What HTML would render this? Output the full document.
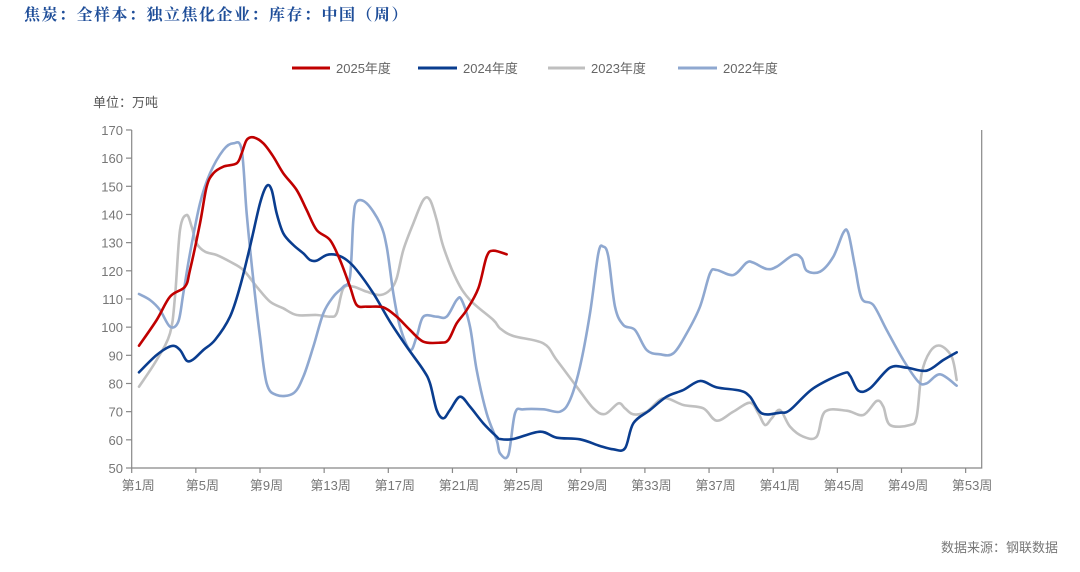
<!DOCTYPE html>
<html><head><meta charset="utf-8"><style>
body{margin:0;background:#fff;width:1080px;height:567px;overflow:hidden;font-family:"Liberation Sans","Noto Sans CJK SC",sans-serif}
</style></head><body>
<svg id="s" width="1080" height="567" xmlns="http://www.w3.org/2000/svg">
<text x="24" y="20" font-size="16" font-weight="bold" fill="#1f4e99" font-family="Liberation Serif,Noto Serif CJK SC,serif" letter-spacing="1.5">焦炭：全样本：独立焦化企业：库存：中国（周）</text>
<g font-size="13" fill="#666">
<line x1="292" y1="68" x2="330" y2="68" stroke="#c00000" stroke-width="3"/><text x="336" y="73">2025年度</text>
<line x1="418" y1="68" x2="457" y2="68" stroke="#0a3d8f" stroke-width="3"/><text x="463" y="73">2024年度</text>
<line x1="548" y1="68" x2="585" y2="68" stroke="#bfbfbf" stroke-width="3"/><text x="591" y="73">2023年度</text>
<line x1="678" y1="68" x2="717" y2="68" stroke="#8fa8d0" stroke-width="3"/><text x="723" y="73">2022年度</text>
</g>
<text x="93" y="107" font-size="13" fill="#555">单位：万吨</text>
<text x="1058" y="552" font-size="13" fill="#777" text-anchor="end">数据来源：钢联数据</text>
<g id="ax" stroke="#888" stroke-width="1.2" fill="none"></g>
<g id="lbl" font-size="13" fill="#777"></g>
<g id="ser" fill="none" stroke-width="2.6" stroke-linejoin="round" stroke-linecap="round"></g>
</svg>
<script>
var NS="http://www.w3.org/2000/svg";
function el(p,t,a,txt){var e=document.createElementNS(NS,t);for(var k in a)e.setAttribute(k,a[k]);if(txt)e.textContent=txt;document.getElementById(p).appendChild(e);}
el("ax","path",{d:"M131.7,130V468H981.7V130"});
for(var v=50;v<=170;v+=10){var y=468-(v-50)*2.817;el("ax","line",{x1:126,y1:y,x2:131.7,y2:y});el("lbl","text",{x:123,y:y+5,"text-anchor":"end"},""+v);}
for(var i=0;i<14;i++){var x=131.7+i*64.15;el("ax","line",{x1:x,y1:468,x2:x,y2:473});el("lbl","text",{x:x+6.5,y:490,"text-anchor":"middle"},"第"+(1+i*4)+"周");}
function L(a){var r=[];for(var i=0;i<a.length;i+=2)if(a[i]<1230)r.push([90+a[i]/3,120+a[i+1]/3]);return r;}
function R(a){var r=[];for(var i=0;i<a.length;i+=2)r.push([500+a[i]/3,200+a[i+1]/3]);return r;}
function path(p){var d="M"+p[0][0].toFixed(1)+","+p[0][1].toFixed(1);for(var i=0;i<p.length-1;i++){var p0=p[i-1]||p[i],p1=p[i],p2=p[i+1],p3=p[i+2]||p2;var c1=[p1[0]+(p2[0]-p0[0])/6,p1[1]+(p2[1]-p0[1])/6],c2=[p2[0]-(p3[0]-p1[0])/6,p2[1]-(p3[1]-p1[1])/6];d+="C"+c1.join(",")+" "+c2.join(",")+" "+p2.join(",");}return d;}
var gray=L([147,800,200,720,240,640,255,530,270,330,290,285,305,320,320,370,345,395,380,405,420,425,460,450,500,500,540,545,580,565,620,585,680,585,720,590,740,580,760,505,790,500,830,515,870,525,900,510,920,475,940,390,970,310,1000,240,1020,240,1040,300,1060,380,1100,480,1140,540,1210,600]).concat(R([0,385,40,408,130,430,170,480,230,560,280,625,315,642,355,610,375,625,400,643,440,635,490,595,550,615,610,625,650,662,700,635,750,608,775,640,795,675,815,655,840,630,870,680,910,710,950,710,975,635,1040,632,1090,645,1130,603,1150,620,1170,675,1230,675,1250,650,1265,520,1290,455,1320,437,1355,470,1370,540]));
var lb=L([147,522,180,540,210,570,240,620,265,605,280,520,300,400,330,250,360,160,400,90,430,70,455,90,470,280,490,480,510,650,530,790,560,825,610,820,640,770,670,680,700,580,730,530,760,500,780,470,790,300,800,245,830,250,870,310,890,380,910,520,930,620,960,690,980,650,1000,590,1040,590,1070,590,1100,540,1115,540,1140,620,1160,750,1190,880,1220,960]).concat(R([0,760,25,765,45,640,70,628,130,628,180,635,210,600,240,500,270,340,295,160,310,140,325,170,345,320,370,375,405,390,440,450,480,463,520,460,560,400,600,320,630,220,650,210,700,225,740,188,760,188,800,207,830,200,880,165,905,175,920,212,960,215,1000,170,1030,98,1045,100,1065,200,1085,295,1120,315,1160,390,1210,480,1255,545,1280,550,1320,523,1370,557]));
var blue=L([147,757,200,705,245,678,270,690,290,722,310,718,340,690,375,660,420,590,450,500,480,380,510,250,530,198,545,210,560,280,580,340,610,375,640,400,660,420,680,422,710,405,740,405,770,420,800,450,850,520,900,605,950,680,1000,750,1020,790,1040,870,1060,895,1080,870,1110,830,1140,860,1180,910,1220,950]).concat(R([0,717,40,717,120,695,170,713,240,718,300,738,340,748,375,745,400,670,450,630,500,590,550,570,600,543,650,562,720,572,750,590,785,640,840,638,870,630,940,565,1030,520,1050,527,1075,572,1110,565,1170,503,1220,503,1280,512,1330,480,1370,457]));
var red=L([147,677,200,600,240,530,285,500,300,450,330,310,350,200,370,160,400,140,440,130,455,100,470,60,490,52,520,70,550,110,580,160,620,210,650,270,680,330,720,360,750,420,780,500,800,555,830,560,880,562,920,590,960,630,1000,665,1050,668,1075,660,1100,610,1130,570,1165,505,1190,410,1210,392]);red.push([90+1250/3,120+403/3]);
[[gray,"#c0c0c0"],[lb,"#8fa8d0"],[blue,"#0a3d8f"],[red,"#c00000"]].forEach(function(s){el("ser","path",{d:path(s[0]),stroke:s[1]});});
</script>
</body></html>
